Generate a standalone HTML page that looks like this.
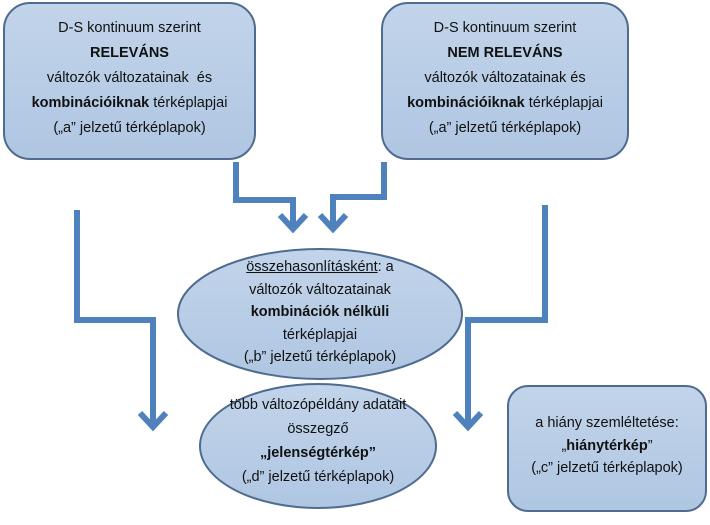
<!DOCTYPE html>
<html><head><meta charset="utf-8"><style>
body{margin:0;width:710px;height:525px;background:#fff;position:relative;overflow:hidden;font-family:"Liberation Sans",sans-serif;color:#111}
.t{position:absolute;text-align:center;font-size:14.5px;line-height:22.5px}
b{font-weight:bold}
</style></head><body>
<svg width="710" height="525" style="position:absolute;left:0;top:0">
<defs><linearGradient id="g" x1="0" y1="0" x2="0" y2="1"><stop offset="0" stop-color="#c2d4ea"/><stop offset="1" stop-color="#afc6e2"/></linearGradient></defs>
<g fill="url(#g)" stroke="#4f6b8f" stroke-width="2">
<rect x="4" y="3" width="251" height="156" rx="26"/>
<rect x="382" y="3" width="246" height="156" rx="26"/>
<ellipse cx="320" cy="314" rx="142" ry="65"/>
<ellipse cx="318" cy="446" rx="118" ry="62"/>
<rect x="508" y="386" width="198" height="125" rx="20"/>
</g>
<g fill="none" stroke="#4f81bd" stroke-width="6" stroke-linejoin="miter">
<polyline points="236,162 236,200 293,200 293,226"/>
<polyline points="384,162 384,197 333,197 333,226"/>
<polyline points="77,210 77,320 153,320 153,424"/>
<polyline points="545,205 545,320 468,320 468,424"/>
</g>
<g fill="none" stroke="#4f81bd" stroke-width="6" stroke-linecap="butt">
<polyline points="280,215 293,229 306,215"/>
<polyline points="320,215 333,229 346,215"/>
<polyline points="140,413 153,427 166,413"/>
<polyline points="455,413 468,427 481,413"/>
</g>
</svg>
<div class="t" style="left:4px;top:16px;width:251px;line-height:25px">D-S kontinuum szerint<br><b>RELEVÁNS</b><br>változók változatainak &nbsp;és<br><b>kombinációiknak</b> térképlapjai<br>(„a” jelzetű térképlapok)</div>
<div class="t" style="left:382px;top:16px;width:246px;line-height:25px">D-S kontinuum szerint<br><b>NEM RELEVÁNS</b><br>változók változatainak és<br><b>kombinációiknak</b> térképlapjai<br>(„a” jelzetű térképlapok)</div>
<div class="t" style="left:178px;top:256px;width:284px"><u>összehasonlításként</u>: a<br>változók változatainak<br><b>kombinációk nélküli</b><br>térképlapjai<br>(„b” jelzetű térképlapok)</div>
<div class="t" style="left:200px;top:393px;width:236px;line-height:24px">több változópéldány adatait<br>összegző<br><b>„jelenségtérkép”</b><br>(„d” jelzetű térképlapok)</div>
<div class="t" style="left:508px;top:412px;width:198px">a hiány szemléltetése:<br>„<b>hiánytérkép</b>”<br>(„c” jelzetű térképlapok)</div>
</body></html>
